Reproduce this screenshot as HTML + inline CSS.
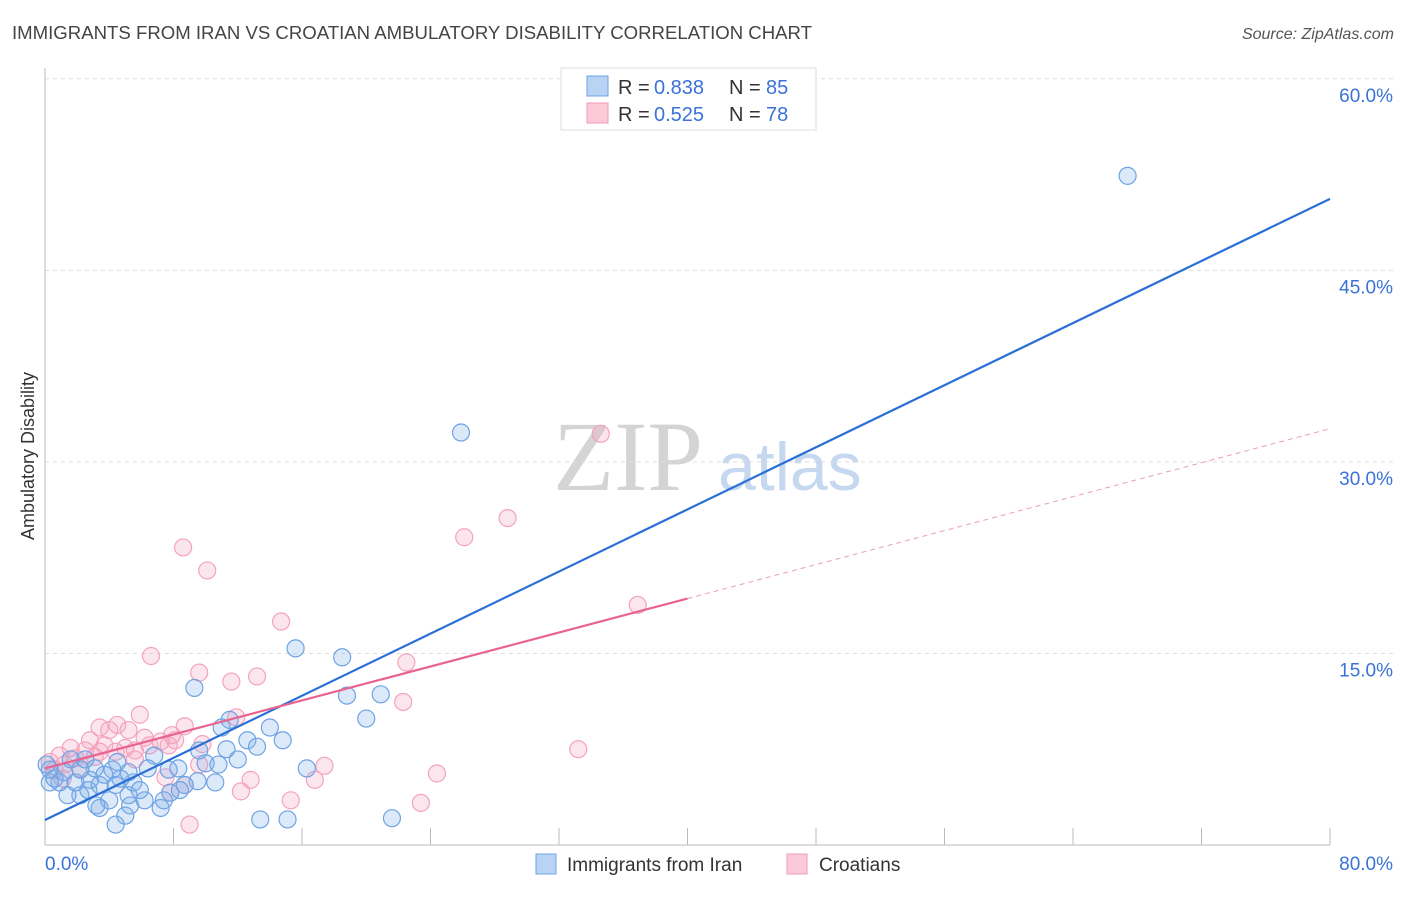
<!DOCTYPE html>
<html><head><meta charset="utf-8"><style>
body{margin:0;background:#fff;font-family:"Liberation Sans",sans-serif;}
</style></head><body>
<svg id="chart" width="1406" height="892" xmlns="http://www.w3.org/2000/svg" font-family="Liberation Sans, sans-serif">
<text x="12" y="39" font-size="18.6" fill="#444">IMMIGRANTS FROM IRAN VS CROATIAN AMBULATORY DISABILITY CORRELATION CHART</text>
<text x="1394" y="39" font-size="16" fill="#555" font-style="italic" text-anchor="end">Source: ZipAtlas.com</text>
<text x="553" y="490" font-size="100" style="font-family:'Liberation Serif',serif" fill="#d4d4d4">ZIP</text>
<text x="718" y="490" font-size="68" fill="#c5d8ef">atlas</text>
<text transform="translate(34,456) rotate(-90)" font-size="18" fill="#333" text-anchor="middle">Ambulatory Disability</text>
<g id="grid"></g><g id="axes"></g><g id="pinkpts"></g><g id="bluepts"></g><g id="lines"></g>
<g>
<rect x="561" y="68" width="255" height="62" fill="#fff" stroke="#ddd"/>
<rect x="587" y="76" width="21" height="20" fill="#b8d3f4" stroke="#6fa3e6"/>
<rect x="587" y="103" width="21" height="20" fill="#fbc9d8" stroke="#f09ab5"/>
<text x="618" y="94" font-size="20" fill="#333">R =</text>
<text x="654" y="94" font-size="20" fill="#3a72d8">0.838</text>
<text x="729" y="94" font-size="20" fill="#333">N =</text>
<text x="766" y="94" font-size="20" fill="#3a72d8">85</text>
<text x="618" y="121" font-size="20" fill="#333">R =</text>
<text x="654" y="121" font-size="20" fill="#3a72d8">0.525</text>
<text x="729" y="121" font-size="20" fill="#333">N =</text>
<text x="766" y="121" font-size="20" fill="#3a72d8">78</text>
</g>
<g>
<rect x="536" y="854" width="20" height="20" fill="#b8d3f4" stroke="#6fa3e6"/>
<text x="567" y="871" font-size="19" fill="#333">Immigrants from Iran</text>
<rect x="787" y="854" width="20" height="20" fill="#fbc9d8" stroke="#f09ab5"/>
<text x="819" y="871" font-size="19" fill="#333">Croatians</text>
</g>
</svg>
<script>
const yTicks=[15,30,45,60];
const yTickLabels=["15.0%","30.0%","45.0%","60.0%"];
const xTicks=[0,8,16,24,32,40,48,56,64,72,80];
const xLabels=["0.0%","80.0%"];
const blueX=[67.4,25.9,15.6,18.5,9.3,18.8,20.9,20.0,11.5,14.0,14.8,12.6,13.2,11.3,11.0,12.0,10.0,10.8,16.3,7.7,8.3,9.5,10.6,6.8,8.7,7.8,6.2,7.2,7.4,13.4,15.1,21.6,4.4,5.0,5.3,3.4,3.2,4.0,5.2,2.2,1.4,2.7,3.4,4.4,5.5,4.7,2.8,1.9,0.9,0.3,0.6,5.2,4.2,3.1,2.2,1.2,0.3,0.1,4.5,3.7,6.4,9.6,2.5,1.6,5.9,8.4];
const blueY=[52.4,32.3,15.4,14.7,12.3,11.7,11.8,9.9,9.8,9.2,8.2,8.2,7.7,7.5,9.2,6.7,6.4,6.3,6.0,5.9,6.0,5.0,4.9,7.0,4.7,4.1,3.5,2.9,3.5,2.0,2.0,2.1,1.6,2.3,3.1,2.9,3.1,3.5,3.9,3.9,3.9,4.3,4.7,4.7,4.9,5.2,5.1,4.9,4.9,4.9,5.2,5.7,5.9,6.0,5.9,5.7,5.9,6.3,6.5,5.5,6.0,7.4,6.7,6.7,4.3,4.3];
const pinkX=[34.6,28.8,26.1,8.6,10.1,36.9,14.7,6.6,22.5,9.6,13.2,11.6,22.3,5.9,11.9,8.7,3.4,4.5,5.2,4.0,8.1,7.2,6.2,7.7,9.8,2.8,3.7,5.0,5.6,1.6,2.5,3.4,33.2,0.9,1.9,3.1,4.4,5.6,0.3,1.2,2.2,0.6,17.4,9.6,24.4,7.5,16.8,12.8,8.7,12.2,7.8,15.3,23.4,9.0,6.5,7.9,1.1];
const pinkY=[32.2,25.6,24.1,23.3,21.5,18.8,17.5,14.8,14.3,13.5,13.2,12.8,11.2,10.2,10.0,9.3,9.2,9.4,9.0,9.0,8.2,8.1,8.4,7.8,7.9,8.2,7.8,7.6,7.4,7.6,7.4,7.3,7.5,7.0,6.8,6.9,7.3,6.7,6.5,6.3,6.0,5.9,6.2,6.3,5.6,5.3,5.1,5.1,4.7,4.2,4.1,3.5,3.3,1.6,7.8,8.6,5.2];
const blueLine=[1.96,50.6];
const pinkLine=[6.0,32.6];
const pinkSolidEnd=40;

const NS="http://www.w3.org/2000/svg";
const X0=45,X1=1330,Y0=845,YS=12.77;
function sx(v){return X0+(X1-X0)*v/80;}
function sy(v){return Y0-v*YS;}
function mk(tag,attrs,parent){const e=document.createElementNS(NS,tag);for(const k in attrs)e.setAttribute(k,attrs[k]);document.getElementById(parent).appendChild(e);return e;}
yTicks.forEach((t,i)=>{
 const g=mk('line',{x1:X0,x2:1394,y1:sy(t),y2:sy(t),stroke:'#ddd','stroke-dasharray':'4,4'},'grid');
 
 
 const l=mk('text',{x:1393,y:sy(t)+23,'font-size':19,fill:'#3a72d8','text-anchor':'end'},'axes');
 l.textContent=yTickLabels[i];
 
 
});
const ax=mk('line',{x1:X0,x2:X0,y1:68,y2:Y0,stroke:'#bbb'},'axes');


const bx=mk('line',{x1:X0,x2:X1,y1:Y0,y2:Y0,stroke:'#bbb'},'axes');


xTicks.forEach(t=>{
 const tk=mk('line',{x1:sx(t),x2:sx(t),y1:828,y2:Y0,stroke:'#bbb'},'axes');
 
 
});
const xl0=mk('text',{x:45,y:870,'font-size':19,fill:'#3a72d8'},'axes');xl0.textContent=xLabels[0];


const xl1=mk('text',{x:1393,y:870,'font-size':19,fill:'#3a72d8','text-anchor':'end'},'axes');xl1.textContent=xLabels[1];


pinkX.forEach((x,i)=>{
 const c=mk('circle',{cx:sx(x),cy:sy(pinkY[i]),r:8.5,fill:'rgba(246,165,190,0.28)',stroke:'#f4a3bc','stroke-width':1.2},'pinkpts');
 
 
});
blueX.forEach((x,i)=>{
 const c=mk('circle',{cx:sx(x),cy:sy(blueY[i]),r:8.5,fill:'rgba(130,176,234,0.28)',stroke:'#6ea3e4','stroke-width':1.2},'bluepts');
 
 
});
const pAt=v=>pinkLine[0]+(pinkLine[1]-pinkLine[0])*v/80;
const b=mk('line',{x1:sx(0),y1:sy(blueLine[0]),x2:sx(80),y2:sy(blueLine[1]),stroke:'#2a6fd6','stroke-width':2.2},'lines');


const p=mk('line',{x1:sx(0),y1:sy(pAt(0)),x2:sx(pinkSolidEnd),y2:sy(pAt(pinkSolidEnd)),stroke:'#e8648f','stroke-width':2.2},'lines');


const pd=mk('line',{x1:sx(pinkSolidEnd),y1:sy(pAt(pinkSolidEnd)),x2:sx(80),y2:sy(pAt(80)),stroke:'#e8a0b8','stroke-width':1,'stroke-dasharray':'5,4'},'lines');


</script>
</body></html>
